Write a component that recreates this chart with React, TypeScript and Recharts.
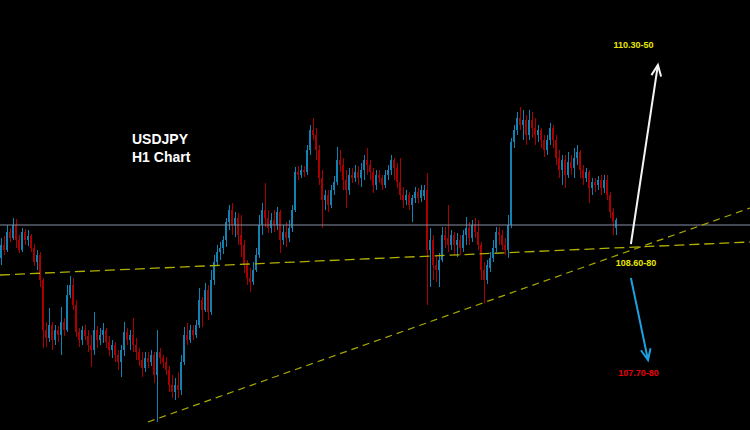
import React from 'react';
import { ComposedChart, Bar, XAxis, YAxis, ReferenceLine, ReferenceDot } from 'recharts';

// USDJPY H1 candles (prices in yen), oldest first
const opens = [
  108.52,108.65,108.60,108.78,108.72,108.85,108.70,108.60,108.78,108.70,108.74,108.62,108.48,108.55,108.30,107.80,107.72,107.85,107.70,107.80,
  107.75,107.88,107.80,108.15,108.25,108.05,107.78,107.70,107.80,107.74,107.65,107.60,107.80,107.70,107.75,107.80,107.68,107.60,107.65,107.55,
  107.48,107.60,107.78,107.70,107.75,107.65,107.58,107.50,107.42,107.52,107.48,107.55,107.35,107.58,107.52,107.48,107.40,107.25,107.18,107.25,
  107.20,107.48,107.75,107.70,107.80,107.75,107.85,108.10,108.00,108.20,107.98,108.30,108.48,108.58,108.62,108.70,108.88,109.00,108.85,108.92,
  108.75,108.65,108.45,108.32,108.28,108.40,108.55,108.85,109.00,108.92,108.82,108.90,108.85,108.98,108.70,108.78,108.72,108.82,109.00,109.38,
  109.35,109.40,109.38,109.60,109.80,109.75,109.60,109.32,109.10,109.15,109.05,109.20,109.28,109.50,109.45,109.30,109.20,109.35,109.32,109.38,
  109.32,109.40,109.50,109.45,109.38,109.25,109.35,109.32,109.25,109.35,109.40,109.50,109.42,109.28,109.15,109.10,109.15,109.05,109.12,109.18,
  109.12,109.14,109.20,108.60,108.70,108.45,108.40,108.50,108.75,108.72,108.65,108.75,108.65,108.70,108.62,108.75,108.82,108.72,108.85,108.78,
  108.65,108.40,108.30,108.42,108.52,108.62,108.78,108.75,108.65,108.60,108.85,109.68,109.80,109.92,109.85,109.90,109.75,109.90,109.82,109.75,
  109.80,109.70,109.60,109.70,109.82,109.70,109.52,109.40,109.50,109.35,109.48,109.42,109.52,109.58,109.40,109.32,109.38,109.22,109.28,109.25,
  109.30,109.22,109.30,109.15,108.98,108.82,
];
const highs = [
  108.72,108.74,108.85,108.82,108.92,108.91,108.75,108.82,108.81,108.80,108.76,108.66,108.60,108.58,108.32,107.88,108.02,107.88,107.85,107.84,
  108.03,107.92,108.25,108.34,108.32,108.10,107.82,107.84,107.85,107.80,107.75,107.98,107.84,107.82,107.87,107.82,107.74,107.70,107.68,107.60,
  107.65,107.88,107.82,107.80,107.92,107.72,107.62,107.58,107.58,107.58,107.60,107.58,107.80,107.62,107.55,107.53,107.44,107.35,107.32,107.38,
  107.55,107.83,107.87,107.85,107.85,107.90,108.22,108.13,108.27,108.25,108.40,108.55,108.65,108.68,108.74,108.92,109.05,109.07,108.98,108.97,
  108.95,108.70,108.50,108.42,108.48,108.62,108.95,109.07,109.27,109.00,108.97,109.00,109.03,109.00,108.85,108.88,108.90,109.05,109.43,109.44,
  109.45,109.44,109.65,109.85,109.92,109.82,109.65,109.40,109.20,109.20,109.25,109.34,109.63,109.60,109.52,109.40,109.42,109.42,109.45,109.44,
  109.47,109.55,109.62,109.50,109.42,109.40,109.40,109.35,109.40,109.45,109.55,109.52,109.47,109.52,109.23,109.20,109.18,109.15,109.23,109.22,
  109.25,109.25,109.37,108.82,108.75,108.55,108.57,108.83,108.83,109.05,108.80,108.78,108.77,108.75,108.80,108.93,108.88,108.90,108.92,108.90,
  108.68,108.48,108.50,108.58,108.70,108.83,108.83,108.80,108.72,108.95,109.72,109.85,109.98,110.03,110.00,109.95,110.00,109.98,109.92,109.85,
  109.82,109.75,109.75,109.87,109.85,109.75,109.60,109.55,109.55,109.58,109.55,109.62,109.65,109.60,109.45,109.42,109.40,109.32,109.32,109.34,
  109.35,109.35,109.35,109.18,109.02,108.92,
];
const lows = [
  108.45,108.55,108.58,108.68,108.70,108.62,108.57,108.58,108.65,108.64,108.58,108.44,108.40,108.23,107.62,107.63,107.68,107.60,107.65,107.68,
  107.55,107.74,107.78,108.12,108.00,107.73,107.63,107.65,107.70,107.58,107.43,107.55,107.62,107.65,107.67,107.62,107.54,107.52,107.48,107.40,
  107.33,107.54,107.65,107.60,107.58,107.50,107.44,107.33,107.38,107.42,107.44,107.27,106.88,107.46,107.42,107.35,107.18,107.12,107.10,107.12,
  107.15,107.45,107.65,107.67,107.70,107.72,107.82,107.83,107.98,107.90,107.95,108.25,108.44,108.50,108.56,108.63,108.80,108.75,108.73,108.65,
  108.53,108.37,108.25,108.18,108.25,108.38,108.52,108.75,108.83,108.77,108.77,108.78,108.80,108.57,108.65,108.63,108.68,108.78,108.98,109.30,
  109.32,109.33,109.35,109.55,109.70,109.50,109.25,108.82,109.00,108.98,109.02,109.15,109.25,109.38,109.20,109.02,109.15,109.27,109.28,109.25,
  109.23,109.30,109.35,109.30,109.17,109.20,109.27,109.20,109.22,109.30,109.35,109.30,109.22,109.10,109.02,109.05,109.00,108.88,109.07,109.07,
  109.08,109.10,108.05,108.23,108.30,108.28,108.23,108.48,108.62,108.58,108.60,108.55,108.53,108.55,108.58,108.65,108.65,108.68,108.72,108.60,
  108.30,108.07,108.26,108.38,108.48,108.58,108.65,108.60,108.55,108.52,108.82,109.62,109.75,109.80,109.70,109.65,109.70,109.72,109.65,109.68,
  109.62,109.53,109.55,109.65,109.62,109.45,109.32,109.25,109.22,109.32,109.35,109.32,109.45,109.32,109.25,109.28,109.07,109.15,109.18,109.20,
  109.15,109.17,109.10,108.92,108.75,108.75,
];
const closes = [
  108.65,108.60,108.78,108.72,108.85,108.70,108.60,108.78,108.70,108.74,108.62,108.48,108.55,108.30,107.80,107.72,107.85,107.70,107.80,107.75,
  107.88,107.80,108.15,108.25,108.05,107.78,107.70,107.80,107.74,107.65,107.60,107.80,107.70,107.75,107.80,107.68,107.60,107.65,107.55,107.48,
  107.60,107.78,107.70,107.75,107.65,107.58,107.50,107.42,107.52,107.48,107.55,107.35,107.58,107.52,107.48,107.40,107.25,107.18,107.25,107.20,
  107.48,107.75,107.70,107.80,107.75,107.85,108.10,108.00,108.20,107.98,108.30,108.48,108.58,108.62,108.70,108.88,109.00,108.85,108.92,108.75,
  108.65,108.45,108.32,108.28,108.40,108.55,108.85,109.00,108.92,108.82,108.90,108.85,108.98,108.70,108.78,108.72,108.82,109.00,109.38,109.35,
  109.40,109.38,109.60,109.80,109.75,109.60,109.32,109.10,109.15,109.05,109.20,109.28,109.50,109.45,109.30,109.20,109.35,109.32,109.38,109.32,
  109.40,109.50,109.45,109.38,109.25,109.35,109.32,109.25,109.35,109.40,109.50,109.42,109.28,109.15,109.10,109.15,109.05,109.12,109.18,109.12,
  109.20,109.20,108.60,108.70,108.45,108.40,108.50,108.75,108.70,108.65,108.75,108.65,108.70,108.62,108.75,108.82,108.72,108.85,108.78,108.65,
  108.40,108.30,108.45,108.52,108.62,108.78,108.75,108.65,108.60,108.85,109.68,109.80,109.92,109.85,109.90,109.75,109.90,109.82,109.75,109.80,
  109.70,109.60,109.70,109.82,109.70,109.52,109.40,109.50,109.35,109.48,109.42,109.52,109.58,109.40,109.32,109.38,109.22,109.28,109.25,109.30,
  109.22,109.30,109.15,108.98,108.88,108.90,
];

// Annotation levels
const resistanceLevel = 108.85;
const trendFlat = [108.35, 108.68]; // start/end price of flat dashed trendline
const trendRising = [106.88, 109.02]; // start/end price of rising dashed trendline
const upTarget = { from: 108.66, to: 110.45, label: '110.30-50' };
const pivot = { label: '108.60-80', price: 108.47 };
const downTarget = { from: 108.32, to: 107.50, label: '107.70-80' };

const UP = '#1281b4';
const DOWN = '#ac0000';

const rows = opens.map((o, i) => ({
  t: i + 0.5,
  open: o,
  high: highs[i],
  low: lows[i],
  close: closes[i],
  range: [lows[i], highs[i]],
}));

const Candle = (props: any) => {
  const { x, y, width, height, payload } = props;
  if (!payload || x == null) return null;
  const top = Math.min(y, y + height);
  const bot = Math.max(y, y + height);
  const span = payload.high - payload.low || 1;
  const pix = (v: number) => top + ((payload.high - v) / span) * (bot - top);
  const up = payload.close >= payload.open;
  const color = up ? UP : DOWN;
  const bTop = Math.min(pix(payload.open), pix(payload.close));
  const bBot = Math.max(pix(payload.open), pix(payload.close));
  const cx = Math.round(x + width / 2 - 0.5);
  return (
    <g>
      <rect x={cx} y={top} width={1} height={Math.max(1, bot - top)} fill={color} />
      <rect x={Math.round(x)} y={bTop} width={width} height={Math.max(1, bBot - bTop)} fill={color} />
    </g>
  );
};

const arrowShape = (color: string) => (p: any) => {
  const { x1, y1, x2, y2 } = p;
  const ang = Math.atan2(y2 - y1, x2 - x1);
  const len = 12;
  const sp = 0.42;
  const ax = x2 - len * Math.cos(ang - sp);
  const ay = y2 - len * Math.sin(ang - sp);
  const bx = x2 - len * Math.cos(ang + sp);
  const by = y2 - len * Math.sin(ang + sp);
  return (
    <g>
      <line x1={x1} y1={y1} x2={x2} y2={y2} stroke={color} strokeWidth={2} />
      <polyline points={`${ax},${ay} ${x2},${y2} ${bx},${by}`} fill="none" stroke={color} strokeWidth={2} />
    </g>
  );
};

const labelStyle = (fill: string, value: string) => ({
  value,
  position: 'center' as const,
  fill,
  fontSize: 9,
  fontWeight: 'bold',
  fontFamily: 'Arial, "Liberation Sans", sans-serif',
});

export default function App() {
  return (
    <div style={{ position: 'fixed', left: 0, top: 0, width: 750, height: 430, background: '#000', overflow: 'hidden' }}>
      <ComposedChart width={750} height={430} data={rows} margin={{ top: 0, right: 0, bottom: 0, left: 0 }}>
        <XAxis type="number" dataKey="t" domain={[0, 250]} hide allowDataOverflow />
        <YAxis type="number" domain={[106.8, 111.1]} hide allowDataOverflow />
        <ReferenceLine y={resistanceLevel} stroke="#8690a4" strokeWidth={1} />
        <ReferenceLine
          segment={[{ x: 0, y: trendFlat[0] }, { x: 250, y: trendFlat[1] }]}
          stroke="#b0b000"
          strokeWidth={1.3}
          strokeDasharray="10 5"
        />
        <ReferenceLine
          segment={[{ x: 49.3, y: trendRising[0] }, { x: 250, y: trendRising[1] }]}
          stroke="#a8a800"
          strokeWidth={1.2}
          strokeDasharray="7 5"
        />
        <Bar dataKey="range" shape={Candle} barSize={2} isAnimationActive={false} />
        <ReferenceLine
          segment={[{ x: 210.3, y: upTarget.from }, { x: 219.3, y: upTarget.to }]}
          stroke="#ffffff"
          shape={arrowShape('#f4f4f4')}
        />
        <ReferenceLine
          segment={[{ x: 210.3, y: downTarget.from }, { x: 216, y: downTarget.to }]}
          stroke="#1e9fe0"
          shape={arrowShape('#1e9fe0')}
        />
        <ReferenceDot x={211.2} y={110.655} r={0} fill="none" stroke="none" label={labelStyle('#e8e800', upTarget.label)} />
        <ReferenceDot x={212} y={pivot.price} r={0} fill="none" stroke="none" label={labelStyle('#e8e800', pivot.label)} />
        <ReferenceDot x={212.8} y={107.37} r={0} fill="none" stroke="none" label={labelStyle('#e8000b', downTarget.label)} />
      </ComposedChart>
      <div
        style={{
          position: 'absolute',
          left: 132,
          top: 130,
          color: '#fff',
          fontFamily: 'Arial, "Liberation Sans", sans-serif',
          fontWeight: 'bold',
          fontSize: 14,
          lineHeight: '18px',
        }}
      >
        <div>USDJPY</div>
        <div>H1 Chart</div>
      </div>
    </div>
  );
}
